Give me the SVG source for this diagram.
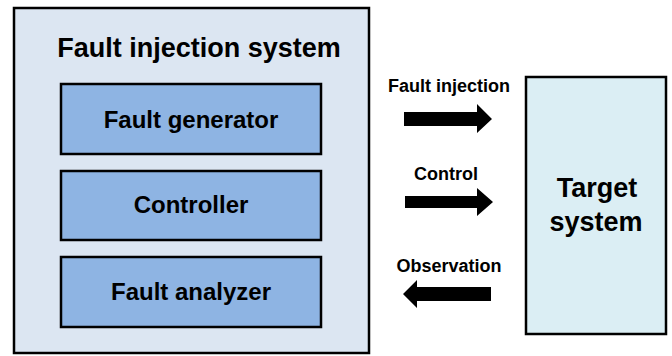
<svg xmlns="http://www.w3.org/2000/svg" width="672" height="356" viewBox="0 0 672 356">
  <style>
    text { font-family: "Liberation Sans", Arial, sans-serif; font-weight: bold; fill: #000; text-anchor: middle; }
    .outer { fill: #dce6f2; stroke: #000; stroke-width: 2.5; }
    .module { fill: #8eb4e3; stroke: #000; stroke-width: 2.5; }
    .target { fill: #dbeef4; stroke: #000; stroke-width: 2.5; }
    .arrow { fill: #000; }
    .lbl { font-size: 18px; }
    .mod-text { font-size: 24px; }
  </style>

  <g id="fault-injection-system">
    <rect class="outer" x="14" y="8" width="355" height="345"/>
    <text x="199" y="57" font-size="27">Fault injection system</text>
  </g>

  <g id="fault-generator">
    <rect class="module" x="61" y="84" width="260" height="70"/>
    <text class="mod-text" x="191" y="128">Fault generator</text>
  </g>

  <g id="controller">
    <rect class="module" x="61" y="171" width="260" height="69"/>
    <text class="mod-text" x="191" y="213">Controller</text>
  </g>

  <g id="fault-analyzer">
    <rect class="module" x="61" y="257" width="260" height="70"/>
    <text class="mod-text" x="191" y="300">Fault analyzer</text>
  </g>

  <g id="target-system">
    <rect class="target" x="526" y="77" width="140" height="257"/>
    <text x="597" y="197" font-size="27">Target</text>
    <text x="596" y="231" font-size="27">system</text>
  </g>

  <g id="connectors">
    <g id="fault-injection">
      <text class="lbl" x="449" y="92">Fault injection</text>
      <polygon class="arrow" points="404,112 477,112 477,104 492,119 477,133 477,126 404,126"/>
    </g>
    <g id="control">
      <text class="lbl" x="446" y="180">Control</text>
      <polygon class="arrow" points="405,196 477,196 477,188 493,202 477,216 477,208 405,208"/>
    </g>
    <g id="observation">
      <text class="lbl" x="449" y="272">Observation</text>
      <polygon class="arrow" points="491,287 417,287 417,280 403,294 417,308 417,301 491,301"/>
    </g>
  </g>
</svg>
